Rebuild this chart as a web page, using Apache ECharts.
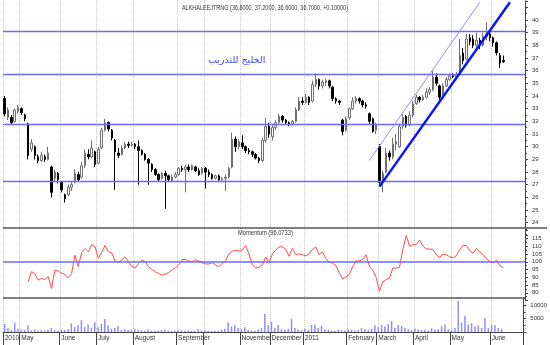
<!DOCTYPE html>
<html><head><meta charset="utf-8">
<script src="https://cdn.jsdelivr.net/npm/echarts@6/dist/echarts.min.js"></script>
<style>html,body{margin:0;padding:0;background:#fff}#c{width:550px;height:345px}</style>
</head><body><div id="c"></div>
<script>
// number of slots on the time axis (one per bar, plus empty slots at the right)
const slotCount = 156;
const categories = Array.from({length: slotCount}, (_, i) => String(i));
// month ticks: slot index and label
const tickIndex = [0, 5, 17, 28, 39, 52, 60, 71, 80, 90, 103, 112, 123, 134, 146];
const tickLabels = ['2010', 'May', 'June', 'July', 'August', 'September', '', 'November', 'December', '2011', 'February', 'March', 'April', 'May', 'June'];

// [open, close, low, high]
const ohlc = [
[33.8,32.6,32.4,34.0],[32.3,32.9,32.1,33.1],[32.3,31.9,31.8,32.5],[32.0,32.9,31.9,33.0],[32.8,33.1,32.6,33.3],
[33.0,32.7,32.5,33.1],[32.5,32.2,32.0,32.6],[31.8,29.3,29.0,31.9],[29.8,30.3,29.6,30.6],[30.0,29.3,29.0,30.1],
[29.2,28.9,28.7,29.4],[28.9,29.3,28.8,29.6],[29.2,29.0,28.8,29.4],[29.0,29.5,28.9,30.0],[28.4,26.4,26.0,28.5],
[27.5,28.0,27.3,28.2],[27.9,27.4,27.1,28.0],[27.2,26.6,26.4,27.3],[26.2,25.9,25.6,26.3],[26.2,26.8,26.1,27.0],
[26.8,27.0,26.5,27.2],[27.2,27.9,27.1,28.2],[27.8,27.4,27.3,28.0],[27.6,28.5,27.5,28.8],[28.5,29.5,28.3,29.8],
[29.4,29.2,29.0,29.8],[29.2,29.9,29.1,30.5],[29.6,28.6,28.4,29.7],[28.7,29.8,28.6,30.0],[29.9,31.3,29.8,31.5],
[31.3,31.9,31.2,32.2],[31.9,31.4,31.2,32.0],[31.3,30.7,30.5,31.4],[30.5,29.6,26.6,30.6],[29.5,29.3,29.1,29.9],
[29.4,29.9,29.3,30.1],[29.9,30.2,29.8,30.4],[30.2,30.1,29.9,30.4],[30.1,30.2,30.0,30.4],[30.2,30.0,29.8,30.3],
[30.0,29.7,27.0,30.5],[29.7,29.4,29.3,29.8],[29.4,29.0,28.9,29.5],[29.0,28.7,27.0,29.1],[28.6,28.2,28.0,28.7],
[28.2,27.8,27.7,28.3],[27.8,27.4,27.3,27.9],[27.5,27.9,27.4,28.0],[27.9,27.7,25.1,28.1],[27.7,27.4,27.2,27.8],
[27.3,27.6,27.2,27.8],[27.6,27.8,27.5,28.0],[27.8,28.3,27.7,28.4],[28.3,28.2,28.0,28.5],[28.2,28.4,26.4,28.6],
[28.4,28.2,28.0,28.6],[28.2,28.5,28.1,28.6],[28.4,28.1,28.0,28.5],[28.1,27.8,27.7,28.3],[27.9,28.3,27.8,28.4],
[28.3,28.0,26.7,28.4],[28.0,27.8,27.6,28.2],[27.8,27.5,27.4,27.9],[27.5,27.7,27.4,27.8],[27.7,27.4,27.3,27.8],
[27.4,27.5,27.2,27.6],[27.5,27.6,26.5,27.8],[27.6,28.3,27.5,28.4],[28.4,30.6,28.3,31.1],[30.6,30.0,29.6,30.8],
[30.0,30.4,29.8,30.6],[30.3,30.0,29.8,30.9],[30.0,29.7,29.5,30.1],[29.7,29.6,29.4,29.9],[29.6,29.4,29.2,29.7],
[29.4,29.1,29.0,29.5],[29.1,28.9,28.7,29.2],[28.9,30.5,28.8,30.7],[30.5,31.6,30.3,32.3],[31.6,31.0,30.7,31.9],
[30.8,31.5,30.5,31.8],[31.5,31.9,31.3,32.1],[31.9,32.4,31.8,32.6],[32.4,32.1,31.9,32.5],[32.1,31.9,31.8,32.2],
[31.9,31.8,31.6,32.0],[31.8,32.0,31.7,32.1],[32.0,32.9,31.9,33.1],[32.9,33.6,32.8,33.9],[33.6,33.5,33.3,33.9],
[33.5,33.9,33.4,34.2],[33.9,33.5,33.3,34.0],[33.6,34.9,33.5,35.2],[34.9,35.3,34.7,35.8],[35.3,34.8,34.5,35.4],
[34.8,35.1,34.6,35.3],[35.1,35.2,34.8,35.4],[35.2,34.8,34.6,35.3],[34.7,33.8,33.6,34.8],[33.8,33.6,33.4,33.9],
[33.6,33.5,33.3,33.7],[32.1,31.2,30.9,32.2],[31.3,32.2,31.2,32.4],[32.3,33.0,32.1,33.1],[33.0,33.6,32.9,33.9],
[33.6,33.8,33.4,34.0],[33.8,33.6,33.4,33.9],[33.6,33.3,33.1,33.7],[33.3,33.2,33.0,33.5],[32.6,32.0,31.8,32.7],
[32.2,31.2,31.1,32.3],[31.3,31.7,31.0,31.9],[30.0,27.2,27.0,30.2],[27.2,27.9,26.4,28.1],[28.0,29.5,27.9,29.9],
[29.5,29.2,28.9,29.7],[29.2,30.2,29.0,30.7],[30.2,30.4,29.7,31.0],[30.0,31.6,29.9,31.8],[31.6,32.3,31.4,32.6],
[32.4,31.7,31.5,32.5],[31.7,32.5,31.6,32.8],[32.5,33.4,32.3,33.6],[33.4,33.9,33.3,34.1],[33.9,33.7,33.5,34.0],
[33.7,33.9,33.6,34.1],[33.9,34.3,33.8,34.6],[34.3,34.5,34.1,34.7],[34.5,35.5,34.4,36.0],[35.5,35.0,34.8,35.8],
[34.8,33.9,33.6,34.9],[33.9,34.8,33.8,35.0],[34.8,35.3,34.7,35.5],[35.3,35.6,35.2,35.8],[35.6,35.5,35.4,35.8],
[35.5,35.7,35.4,35.9],[35.8,37.2,35.7,38.5],[37.4,36.8,36.5,37.8],[36.9,38.5,36.8,38.9],[38.6,38.3,38.0,38.9],
[38.5,38.0,37.8,38.8],[38.0,38.4,37.8,39.0],[38.4,38.0,37.7,38.6],[38.0,38.7,37.9,39.0],[38.7,38.9,38.4,39.8],
[38.9,38.6,38.3,39.0],[38.6,38.2,37.9,38.7],[38.2,37.4,37.2,38.3],[37.2,36.6,36.2,37.4],[36.8,36.7,36.6,37.2]
];

const momentum = ['-','-','-','-','-','-','-',
87.1,93.6,92.3,88.2,89.3,88.5,90.4,82.8,94.6,94.0,
92.5,92.0,89.5,92.5,104.3,96.8,106.0,108.6,106.4,111.0,
109.7,102.1,106.0,110.5,106.4,105.6,100.5,99.6,101.1,103.2,
100.0,97.0,96.0,98.9,101.1,100.0,96.8,95.0,93.6,92.5,
91.4,92.0,93.0,94.7,96.0,97.9,101.5,101.5,100.5,100.0,
101.3,100.5,99.4,98.6,98.6,99.4,98.0,96.8,98.9,100.5,
105.0,106.8,107.2,107.0,107.5,110.5,105.0,98.2,96.0,96.5,
98.0,103.0,99.5,105.0,107.5,109.5,109.7,108.0,103.5,108.6,
104.5,105.2,104.5,103.8,105.2,108.0,109.5,104.5,106.4,102.0,
99.6,99.2,97.5,93.0,89.0,90.3,92.0,96.8,100.5,100.5,
101.5,104.5,97.0,94.6,90.0,81.0,87.0,88.5,89.5,95.9,
96.0,96.5,108.0,117.0,110.0,111.0,111.0,114.0,110.0,108.3,
108.2,107.8,104.5,102.8,105.0,104.5,103.2,102.5,104.0,108.0,
110.5,110.5,107.1,105.4,108.6,106.4,104.5,102.0,100.0,99.3,
101.1,97.5,96.1];

const volume = [3000,1500,800,3500,1200,1000,700,2500,600,900,
500,700,600,800,1500,700,500,900,800,1000,
3200,1800,2500,4400,2000,2800,1500,3700,1800,3000,
4800,2500,1200,1500,2200,800,1000,700,600,1200,
800,600,500,900,600,400,500,700,900,500,
400,600,800,700,500,600,400,500,1000,600,
700,500,400,600,500,800,1200,3500,2000,2400,
1500,1000,1800,700,600,500,900,1500,6700,2500,
3800,1500,2600,1000,800,1200,4800,1500,900,700,
1200,800,2600,2800,1500,2400,1000,800,600,500,
900,700,600,1000,800,600,700,1500,1100,800,
1200,2500,1800,2600,2000,3000,4000,1500,2600,2200,
1500,1000,800,1200,900,700,800,600,1400,900,
1000,2300,2800,1000,900,1500,11500,3500,6000,2800,
3200,2000,2500,1500,5200,1500,2600,2600,1500,1200];

// horizontal support / resistance levels
const levels = [39.08, 35.68, 31.79, 27.24];
// trend lines: [startSlot, startPrice, endSlot, endPrice]
const trendMain = [112, 26.85, 151, 41.4];
const trendParallel = [109, 28.92, 142, 41.4];

const titleText = 'ALKHALEEJTRNG (36.8000, 37.2000, 36.6000, 36.7000, +0.10000)';
const momentumText = 'Momentum (96.0733)';
const arabicText = 'الخليج للتدريب';

const tickSet = new Set(tickIndex);
const labelMap = {};
tickIndex.forEach((t, k) => { labelMap[t] = tickLabels[k]; });
const smallFont = {fontSize: 6, color: '#333', fontFamily: 'Liberation Sans'};

function xAx(grid, bottom) {
  return {
    type: 'category', gridIndex: grid, data: categories, boundaryGap: true,
    splitLine: {show: false},
    axisLine: {show: bottom, lineStyle: {color: '#444', width: 1}},
    axisTick: {show: bottom, interval: (i) => tickSet.has(i), length: 14, lineStyle: {color: '#444'}},
    axisLabel: bottom ? Object.assign({show: true, interval: (i) => tickSet.has(i), align: 'left', margin: 3,
      formatter: (v) => labelMap[Number(v)] || ''}, smallFont, {fontSize: 6.5}) : {show: false}
  };
}
function yAx(grid, min, max, interval, lo, hi) {
  return {
    type: 'value', gridIndex: grid, position: 'right', min: min, max: max, interval: interval,
    axisLine: {show: true, lineStyle: {color: '#444', width: 1}},
    axisTick: {show: true, length: 3, lineStyle: {color: '#444'}},
    minorTick: {show: true, splitNumber: 2, length: 2, lineStyle: {color: '#444'}},
    splitLine: {show: false},
    axisLabel: Object.assign({margin: 7, formatter: (v) => (v >= lo && v <= hi) ? String(v) : ''}, smallFont)
  };
}

const chart = echarts.init(document.getElementById('c'), null, {renderer: 'canvas'});
chart.setOption({
  animation: false,
  backgroundColor: '#fff',
  title: [
    {text: arabicText, left: 208, top: 56, padding: 0, textStyle: {fontWeight: 'normal', fontSize: 9.5, color: '#3c3cff', fontFamily: 'DejaVu Sans'}}
  ],
  grid: [
    {left: 3, right: 25, top: 1.0, height: 234.4},
    {left: 3, right: 25, top: 230.7, height: 69.9},
    {left: 3, right: 25, top: 298, height: 34},
    {left: 3, right: 25, top: 0, height: 331}
  ],
  xAxis: [xAx(0, false), xAx(1, false), xAx(2, true), {
    type: 'category', gridIndex: 3, data: categories, boundaryGap: true,
    axisLine: {show: false}, axisTick: {show: false}, axisLabel: {show: false},
    splitLine: {show: true, interval: (i) => tickSet.has(i), lineStyle: {color: '#c8c8c8', type: 'dotted', width: 1}}
  }],
  yAxis: [yAx(0, 23, 41.5, 1, 24, 40), yAx(1, 75, 120, 5, 80, 115), yAx(2, 0, 12600, 5000, 5000, 10000),
    {type: 'value', gridIndex: 3, show: false, min: 0, max: 1}],
  graphic: [
    {type: 'line', silent: true, z: 100, shape: {x1: 3, y1: 228, x2: 547, y2: 228}, style: {stroke: '#555', lineWidth: 1.5}},
    {type: 'line', silent: true, z: 100, shape: {x1: 3, y1: 298, x2: 525, y2: 298}, style: {stroke: '#555', lineWidth: 1.5}},
    {type: 'text', silent: true, z: 100, x: 182, y: 5, scaleX: 0.83,
      style: {text: titleText, fontSize: 6.6, fill: '#333', fontFamily: 'Liberation Sans'}},
    {type: 'text', silent: true, z: 100, x: 238, y: 230, scaleX: 0.87,
      style: {text: momentumText, fontSize: 6.6, fill: '#333', fontFamily: 'Liberation Sans'}}
  ],
  series: [
    {
      type: 'candlestick', xAxisIndex: 0, yAxisIndex: 0, data: ohlc, barWidth: 2, clip: false,
      itemStyle: {color: '#ffffff', color0: '#000000', borderColor: '#707070', borderColor0: '#000000', borderWidth: 1},
      markLine: {
        silent: true, symbol: ['none', 'none'], label: {show: false}, animation: false,
        data: levels.map(v => ({yAxis: v, lineStyle: {color: '#6a6aff', width: 1.3, type: 'solid'}})).concat([
          [{coord: [trendMain[0], trendMain[1]], lineStyle: {color: '#0a14ff', width: 2.5, type: 'solid'}}, {coord: [trendMain[2], trendMain[3]]}],
          [{coord: [trendParallel[0], trendParallel[1]], lineStyle: {color: '#8c8cff', width: 1, type: 'solid'}}, {coord: [trendParallel[2], trendParallel[3]]}]
        ])
      }
    },
    {
      type: 'line', xAxisIndex: 1, yAxisIndex: 1, data: momentum, showSymbol: false, connectNulls: false,
      lineStyle: {color: '#ff4c4c', width: 1}, itemStyle: {color: '#ff4c4c'},
      markLine: {silent: true, symbol: ['none', 'none'], label: {show: false},
        data: [{yAxis: 100, lineStyle: {color: '#6a6aff', width: 1.5, type: 'solid'}}]}
    },
    {
      type: 'bar', xAxisIndex: 2, yAxisIndex: 2, data: volume, barWidth: 1.5,
      itemStyle: {color: '#8e8eff'}
    }
  ]
});
</script></body></html>
